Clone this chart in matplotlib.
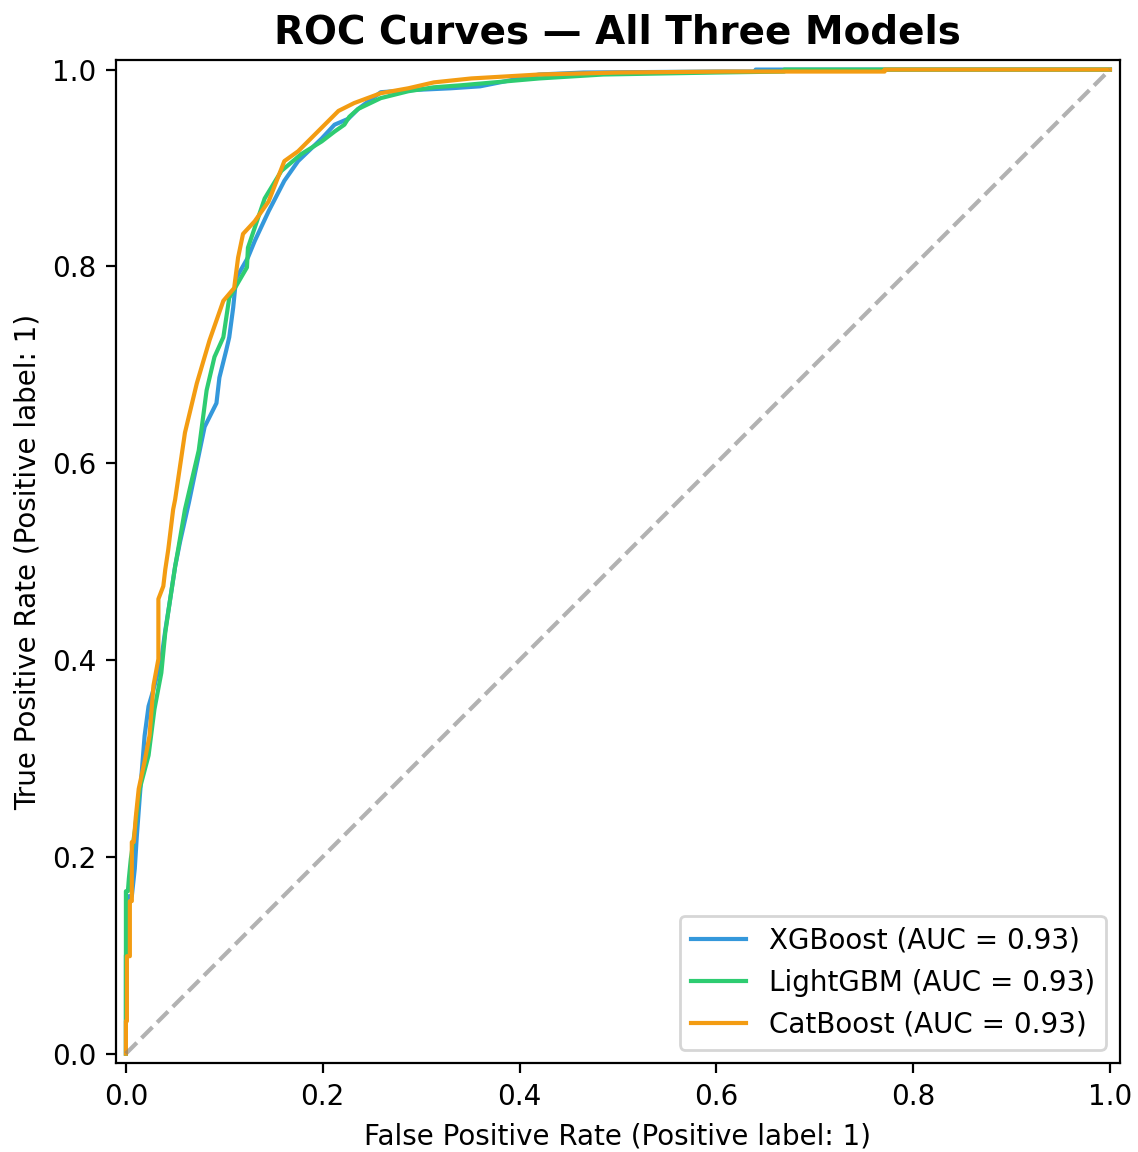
import matplotlib
matplotlib.use("Agg")
import matplotlib.pyplot as plt
import numpy as np

# ROC points (FPR, TPR)
xgb_fpr = [0.0, 0.0, 0.003, 0.003, 0.006, 0.009, 0.011, 0.014, 0.019, 0.023, 0.028, 0.036, 0.040,
           0.045, 0.050, 0.055, 0.064, 0.080, 0.092, 0.095, 0.102, 0.105, 0.109, 0.112, 0.124,
           0.131, 0.145, 0.161, 0.175, 0.199, 0.212, 0.226, 0.236, 0.259, 0.287, 0.330, 0.360,
           0.420, 0.465, 0.600, 0.640, 0.640, 1.0]
xgb_tpr = [0.0, 0.100, 0.100, 0.160, 0.160, 0.188, 0.220, 0.260, 0.323, 0.353, 0.370, 0.401, 0.430,
           0.462, 0.495, 0.520, 0.560, 0.637, 0.661, 0.687, 0.715, 0.728, 0.758, 0.788, 0.809,
           0.826, 0.856, 0.887, 0.907, 0.930, 0.944, 0.950, 0.960, 0.977, 0.979, 0.981, 0.983,
           0.995, 0.997, 0.998, 0.998, 1.0, 1.0]

lgbm_fpr = [0.0, 0.0, 0.002, 0.003, 0.005, 0.009, 0.014, 0.023, 0.029, 0.036, 0.040, 0.045, 0.050,
            0.053, 0.060, 0.074, 0.082, 0.090, 0.099, 0.105, 0.123, 0.124, 0.141, 0.158, 0.178,
            0.199, 0.212, 0.222, 0.227, 0.236, 0.259, 0.287, 0.313, 0.340, 0.420, 0.485, 0.599,
            0.669, 0.669, 1.0]
lgbm_tpr = [0.0, 0.165, 0.165, 0.178, 0.198, 0.226, 0.269, 0.303, 0.350, 0.387, 0.428, 0.462, 0.495,
            0.512, 0.553, 0.613, 0.674, 0.708, 0.728, 0.768, 0.799, 0.819, 0.869, 0.897, 0.914,
            0.927, 0.937, 0.944, 0.952, 0.960, 0.971, 0.978, 0.982, 0.984, 0.991, 0.995, 0.997,
            0.998, 1.0, 1.0]

cat_fpr = [0.0, 0.0, 0.001, 0.001, 0.004, 0.004, 0.006, 0.006, 0.008, 0.010, 0.013, 0.019, 0.024,
           0.028, 0.033, 0.033, 0.038, 0.040, 0.043, 0.048, 0.050, 0.060, 0.072, 0.085, 0.099,
           0.110, 0.114, 0.119, 0.131, 0.145, 0.161, 0.175, 0.200, 0.216, 0.232, 0.259, 0.287,
           0.313, 0.351, 0.420, 0.501, 0.609, 0.771, 0.771, 1.0]
cat_tpr = [0.0, 0.033, 0.033, 0.099, 0.099, 0.155, 0.155, 0.215, 0.215, 0.240, 0.269, 0.297, 0.323,
           0.374, 0.401, 0.462, 0.475, 0.492, 0.512, 0.553, 0.563, 0.631, 0.681, 0.725, 0.765,
           0.778, 0.809, 0.833, 0.846, 0.866, 0.907, 0.917, 0.942, 0.958, 0.966, 0.976, 0.981,
           0.987, 0.991, 0.995, 0.997, 0.998, 0.998, 1.0, 1.0]

models = ["XGBoost", "LightGBM", "CatBoost"]
aucs = [0.93, 0.93, 0.93]
colors = ["#3498db", "#2ecc71", "#f39c12"]

fig, ax = plt.subplots(figsize=(5.69, 5.76), dpi=200)
fig.subplots_adjust(left=0.102, right=0.984, top=0.949, bottom=0.076)

curves = [(xgb_fpr, xgb_tpr), (lgbm_fpr, lgbm_tpr), (cat_fpr, cat_tpr)]
for (fpr, tpr), name, auc, c in zip(curves, models, aucs, colors):
    ax.plot(fpr, tpr, color=c, lw=1.5, label=f"{name} (AUC = {auc:.2f})")

# Zufallsdiagonale
ax.plot([0, 1], [0, 1], color="gray", linestyle="--", alpha=0.6, lw=1.5)

ax.set_xlim(-0.01, 1.01)
ax.set_ylim(-0.01, 1.01)
ax.set_aspect("equal", adjustable="box")
ax.set_xlabel("False Positive Rate (Positive label: 1)")
ax.set_ylabel("True Positive Rate (Positive label: 1)")
ax.set_title("ROC Curves — All Three Models", fontsize=14, fontweight="bold")
ax.legend(loc="lower right")

fig.savefig("out.png", dpi=200)
